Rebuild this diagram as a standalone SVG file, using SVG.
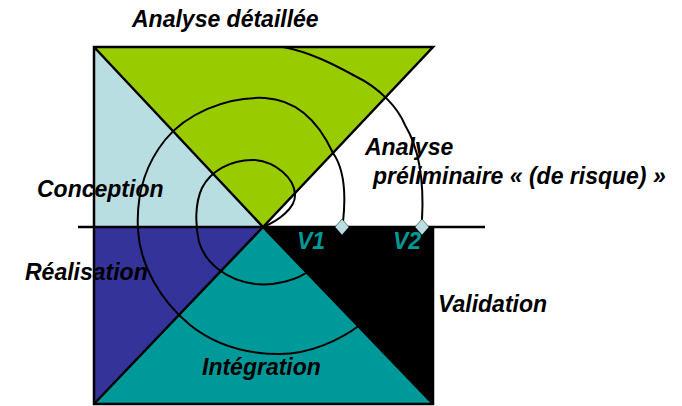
<svg xmlns="http://www.w3.org/2000/svg" width="682" height="406" viewBox="0 0 682 406">
  <style>
    .lbl { font-family: "Liberation Sans", Arial, sans-serif; font-weight: bold; font-style: italic; font-size: 23px; fill: #000; }
    .v { fill: #009999; }
    .edge { stroke: #000; stroke-width: 2.5; fill: none; stroke-linejoin: miter; }
    .spiral { stroke: #000; stroke-width: 2; fill: none; stroke-linecap: round; stroke-linejoin: round; }
    .gate { fill: #B8DEE2; stroke: #000; stroke-width: 0.5; }
  </style>
  <rect width="682" height="406" fill="#fff"/>

  <!-- sectors of the square -->
  <g id="conception">
    <polygon points="94,47 263,227 94,227" fill="#B8DEE2"/>
  </g>
  <g id="analyse-detaillee">
    <polygon points="94,47 433,47 263,227" fill="#99CC00"/>
  </g>
  <g id="realisation">
    <polygon points="94,227 263,227 94,404" fill="#333399"/>
  </g>
  <g id="integration">
    <polygon points="94,404 263,227 433,404" fill="#009999"/>
  </g>
  <g id="validation">
    <polygon points="263,227 433,227 433,404" fill="#000"/>
  </g>

  <!-- outlines and axis -->
  <g id="frame">
    <polyline class="edge" points="94,227 94,47 433,47 263,227 94,47"/>
    <polyline class="edge" points="94,227 94,404 433,404 433,227"/>
    <line class="edge" x1="94" y1="404" x2="263" y2="227"/>
    <line class="edge" x1="263" y1="227" x2="433" y2="404"/>
    <line class="edge" x1="78" y1="227" x2="485" y2="227" stroke-width="2"/>
  </g>

  <!-- spiral path -->
  <g id="connectors">
    <path class="spiral" d="M263,227 C278,221 296,208 295,194 C294,178 276,162 255,160 C230,159 210,172 202,188 C195,203 195,225 199,242 C205,262 225,280 255,284 C275,286 298,280 310,270 C325,258 340,240 343,222"/>
    <path class="spiral" d="M343,222 C346,195 345,170 333,153 C320,125 300,100 265,98 C225,96 185,115 165,140 C145,165 136,195 138,230 C140,265 160,300 190,325 C215,345 245,354 280,354 C310,354 340,340 360,325 C385,300 420,260 422,220"/>
    <path class="spiral" d="M422,220 C424,185 420,150 405,125 C398,108 380,88 355,76 C335,65 310,52 283,47"/>
  </g>

  <!-- validation gates -->
  <g id="v1-gate">
    <polygon class="gate" points="342,219 349,227 342,235 335,227"/>
    <text class="lbl v" x="297" y="249">V1</text>
  </g>
  <g id="v2-gate">
    <polygon class="gate" points="422,219 429,227 422,235 415,227"/>
    <text class="lbl v" x="393" y="249">V2</text>
  </g>

  <!-- phase labels -->
  <g id="labels">
    <text class="lbl" x="132" y="27">Analyse détaillée</text>
    <text class="lbl" x="37" y="197">Conception</text>
    <text class="lbl" x="25" y="280">Réalisation</text>
    <text class="lbl" x="365" y="155">Analyse</text>
    <text class="lbl" x="373" y="184">préliminaire « (de risque) »</text>
    <text class="lbl" x="438" y="312">Validation</text>
    <text class="lbl" x="202" y="375">Intégration</text>
  </g>
</svg>
